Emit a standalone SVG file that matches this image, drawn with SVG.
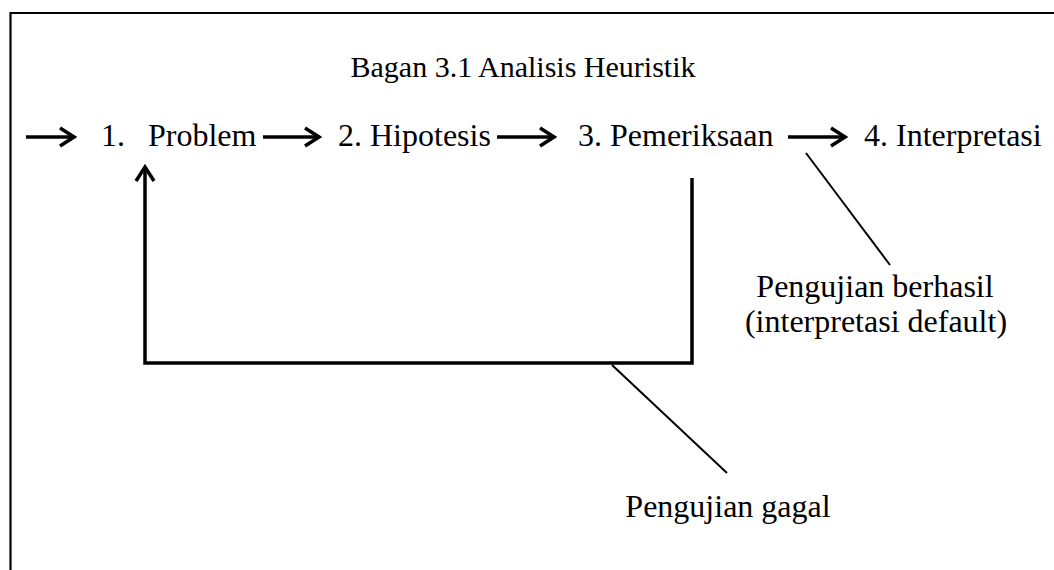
<svg xmlns="http://www.w3.org/2000/svg" width="1054" height="570" viewBox="0 0 1054 570">
<style>
text{font-family:"Liberation Serif","Times New Roman",serif;fill:#000}
.t{font-size:32px}
.title{font-size:30px}
.thick{stroke:#000;stroke-width:3.5;fill:none}
.thin{stroke:#000;stroke-width:2;fill:none}
</style>
<defs>
<marker id="arr" viewBox="0 0 22 22" refX="19" refY="11" markerWidth="22" markerHeight="22" markerUnits="userSpaceOnUse" orient="auto">
<path d="M5,2 L19,11 L5,20" stroke="#000" stroke-width="3.5" fill="none" stroke-linejoin="miter"/>
</marker>
</defs>
<rect width="1054" height="570" fill="#fff"/>
<g id="frame">
<path d="M10.5,570 V13 H1054" stroke="#000" stroke-width="2.2" fill="none"/>
</g>
<g id="title"><text class="title" x="523" y="77" text-anchor="middle">Bagan 3.1 Analisis Heuristik</text></g>
<g id="n1"><text class="t" x="101" y="146">1.</text><text class="t" x="148" y="146">Problem</text></g>
<g id="n2"><text class="t" x="338" y="146">2. Hipotesis</text></g>
<g id="n3"><text class="t" x="578" y="146">3. Pemeriksaan</text></g>
<g id="n4"><text class="t" x="864" y="146">4. Interpretasi</text></g>
<g id="l1"><text class="t" x="875" y="297" text-anchor="middle">Pengujian berhasil</text><text class="t" x="876" y="332" text-anchor="middle">(interpretasi default)</text></g>
<g id="l2"><text class="t" x="728" y="517" text-anchor="middle">Pengujian gagal</text></g>
<g id="connectors">
<line class="thick" x1="26" y1="137" x2="74" y2="137" marker-end="url(#arr)"/>
<line class="thick" x1="263" y1="137" x2="319" y2="137" marker-end="url(#arr)"/>
<line class="thick" x1="497" y1="137" x2="554" y2="137" marker-end="url(#arr)"/>
<line class="thick" x1="788" y1="137" x2="845" y2="137" marker-end="url(#arr)"/>
<polyline class="thick" points="692,178 692,363 145,363 145,167" marker-end="url(#arr)"/>
<line class="thin" x1="806" y1="153" x2="890" y2="265"/>
<line class="thin" x1="612" y1="365" x2="727" y2="473"/>
</g>
</svg>
